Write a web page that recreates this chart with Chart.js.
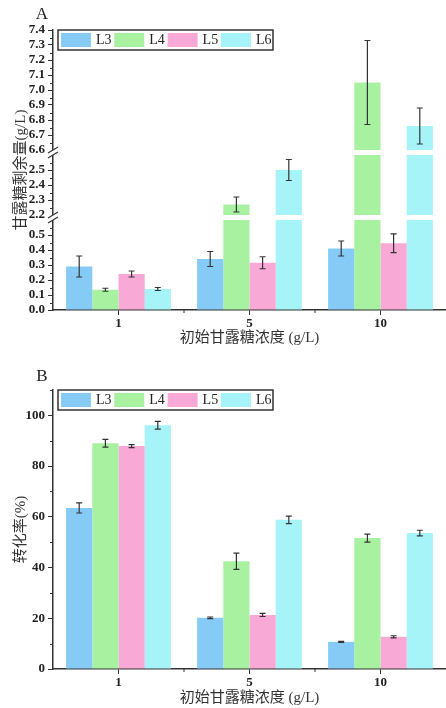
<!DOCTYPE html>
<html lang="zh">
<head>
<meta charset="UTF-8">
<title>甘露糖剩余量与转化率</title>
<script src="https://cdn.jsdelivr.net/npm/chart.js@4.4.0/dist/chart.umd.min.js"></script>
<style>
  * { margin: 0; padding: 0; box-sizing: border-box; }
  body { width: 446px; height: 708px; background: #fff; position: relative; overflow: hidden; }
  #chartA { position: absolute; left: 0; top: 0; }
  #chartB { position: absolute; left: 0; top: 355px; }
</style>
</head>
<body>
<canvas id="chartA" width="446" height="355"></canvas>
<canvas id="chartB" width="446" height="353"></canvas>
<script>
const categories = ['1', '5', '10'];
const seriesNames = ['L3', 'L4', 'L5', 'L6'];
const seriesColors = ['#86cbf6', '#a7f1a0', '#f8a9d5', '#a6f4f8'];

// A: 甘露糖剩余量 (g/L), mean and error
const resL3 = [0.29, 0.34, 0.41];
const resL4 = [0.135, 2.27, 7.05];
const resL5 = [0.24, 0.315, 0.445];
const resL6 = [0.14, 2.50, 6.76];
const resErrL3 = [0.07, 0.05, 0.05];
const resErrL4 = [0.01, 0.05, 0.28];
const resErrL5 = [0.02, 0.04, 0.063];
const resErrL6 = [0.01, 0.07, 0.12];
const resTicks = [0.0, 0.1, 0.2, 0.3, 0.4, 0.5, 2.2, 2.3, 2.4, 2.5,
                  6.6, 6.7, 6.8, 6.9, 7.0, 7.1, 7.2, 7.3, 7.4];

// B: 转化率 (%), mean and error
const convL3 = [63.5, 20.2, 10.7];
const convL4 = [89.0, 42.5, 51.6];
const convL5 = [87.9, 21.3, 12.7];
const convL6 = [96.1, 58.8, 53.6];
const convErrL3 = [2.0, 0.3, 0.2];
const convErrL4 = [1.5, 3.2, 1.6];
const convErrL5 = [0.6, 0.6, 0.4];
const convErrL6 = [1.5, 1.5, 1.1];
const convTicks = [0, 20, 40, 60, 80, 100];

// broken axis for A: visible pieces, gap between them (in axis units)
const segments = [[0, 0.6], [2.2, 2.6], [6.6, 7.4]];
const gapSize = 5 / 150;

function brk(v) {
  let off = 0;
  for (let i = 0; i < segments.length; i++) {
    const [lo, hi] = segments[i];
    if (v <= hi || i === segments.length - 1) return off + Math.max(v, lo) - lo;
    off += hi - lo + gapSize;
  }
}
function unbrk(p) {
  let off = 0;
  for (const [lo, hi] of segments) {
    if (p <= off + hi - lo + 1e-9) return lo + p - off;
    off += hi - lo + gapSize;
  }
  return p;
}
function gapList() {
  const out = [];
  let off = 0;
  segments.slice(0, -1).forEach(([lo, hi]) => {
    off += hi - lo;
    out.push([off, off + gapSize]);
    off += gapSize;
  });
  return out;
}
function minorList(step) {
  const out = [];
  segments.forEach(([lo, hi]) => {
    for (let v = lo + step / 2; v < hi - 1e-9; v += step) out.push(brk(v));
  });
  return out;
}

const extras = {
  chartA: { letter: 'A', gaps: gapList(), minor: minorList(0.1) },
  chartB: { letter: 'B', gaps: [], minor: [10, 30, 50, 70, 90, 110] }
};

const axisColor = '#333';
const tickFont = { family: 'Liberation Serif', size: 13, weight: 'bold' };
const titleFont = { family: "'Liberation Serif', 'Noto Sans CJK SC'", size: 15 };

const decor = {
  id: 'decor',
  afterDatasetsDraw(chart) {
    const o = extras[chart.canvas.id];
    const ctx = chart.ctx, y = chart.scales.y, a = chart.chartArea;
    ctx.save();
    // white bands through the bars at the breaks
    ctx.fillStyle = '#fff';
    o.gaps.forEach(([g0, g1]) => {
      const p0 = y.getPixelForValue(g0), p1 = y.getPixelForValue(g1);
      ctx.fillRect(a.left + 1, p1, a.right - a.left, p0 - p1);
    });
    // error bars
    ctx.strokeStyle = axisColor;
    ctx.lineWidth = 1.2;
    chart.data.datasets.forEach((ds, i) => {
      chart.getDatasetMeta(i).data.forEach((bar, j) => {
        const top = y.getPixelForValue(ds.errHigh[j]);
        const bot = y.getPixelForValue(ds.errLow[j]);
        ctx.beginPath();
        ctx.moveTo(bar.x, top); ctx.lineTo(bar.x, bot);
        ctx.moveTo(bar.x - 3, top); ctx.lineTo(bar.x + 3, top);
        ctx.moveTo(bar.x - 3, bot); ctx.lineTo(bar.x + 3, bot);
        ctx.stroke();
      });
    });
    ctx.restore();
  },
  afterDraw(chart) {
    const o = extras[chart.canvas.id];
    const ctx = chart.ctx, y = chart.scales.y, a = chart.chartArea;
    ctx.save();
    ctx.strokeStyle = axisColor;
    ctx.lineWidth = 1;
    // minor ticks on y
    ctx.beginPath();
    o.minor.forEach(v => {
      const p = Math.round(y.getPixelForValue(v)) + 0.5;
      ctx.moveTo(a.left - 3, p); ctx.lineTo(a.left, p);
    });
    // small ticks between categories
    const n = categories.length;
    for (let k = 1; k < n; k++) {
      const px = a.left + k * (a.right - a.left) / n;
      ctx.moveTo(px, a.bottom); ctx.lineTo(px, a.bottom + 3);
    }
    ctx.stroke();
    // break marks on the y axis
    o.gaps.forEach(([g0, g1]) => {
      const p0 = y.getPixelForValue(g0), p1 = y.getPixelForValue(g1);
      const yc = (p0 + p1) / 2, h = (p0 - p1) / 2;
      ctx.fillStyle = '#fff';
      ctx.fillRect(a.left - 5, yc - h, 10, 2 * h);
      ctx.lineWidth = 1.2;
      ctx.beginPath();
      ctx.moveTo(a.left - 5, yc - h + 3); ctx.lineTo(a.left + 5, yc - h - 3);
      ctx.moveTo(a.left - 5, yc + h + 3); ctx.lineTo(a.left + 5, yc + h - 3);
      ctx.stroke();
    });
    // legend box
    const lx = 58, ly = a.top;
    ctx.lineWidth = 1.5;
    ctx.strokeRect(lx, ly, 215, 20);
    ctx.font = "14px 'Liberation Serif'";
    ctx.textBaseline = 'middle';
    ctx.textAlign = 'left';
    seriesNames.forEach((name, i) => {
      const sx = lx + 3 + i * 53.3;
      ctx.fillStyle = seriesColors[i];
      ctx.fillRect(sx, ly + 3, 30, 14);
      ctx.fillStyle = '#222';
      ctx.fillText(name, sx + 35, ly + 10.5);
    });
    // panel letter
    ctx.font = "17px 'Liberation Serif'";
    ctx.textAlign = 'center';
    ctx.fillStyle = '#222';
    ctx.fillText(o.letter, 42, chart.canvas.id === 'chartA' ? 15 : 22);
    ctx.restore();
  }
};

function buildDatasets(series, errs, map) {
  return seriesNames.map((name, i) => ({
    label: name,
    data: series[i].map(map),
    errHigh: series[i].map((v, j) => map(v + errs[i][j])),
    errLow: series[i].map((v, j) => map(v - errs[i][j])),
    backgroundColor: seriesColors[i],
    borderWidth: 0,
    categoryPercentage: 0.8,
    barPercentage: 1
  }));
}

function makeOptions(o) {
  return {
    responsive: false,
    animation: false,
    layout: { padding: { top: o.padTop, left: 0, right: 0, bottom: 0 } },
    plugins: { legend: { display: false }, tooltip: { enabled: false } },
    scales: {
      x: {
        grid: { display: true, drawOnChartArea: false, offset: false, tickLength: 5, color: axisColor },
        border: { display: true, color: axisColor, width: 1.5 },
        ticks: { font: tickFont, color: '#222', padding: 1 },
        title: { display: true, text: '初始甘露糖浓度 (g/L)', font: titleFont, color: '#333',
                 padding: { top: 0, bottom: o.xTitlePad } },
        afterFit: s => { s.height = o.xHeight; }
      },
      y: {
        min: 0,
        max: o.yMax,
        afterBuildTicks: s => { s.ticks = o.ticks.map(v => ({ value: v })); },
        grid: { display: true, drawOnChartArea: false, tickLength: 5, color: axisColor },
        border: { display: true, color: axisColor, width: 1.5 },
        ticks: { font: tickFont, color: '#222', padding: 3, autoSkip: false, callback: o.label },
        title: { display: true, text: o.yTitle, font: titleFont, color: '#333',
                 padding: { top: 12, bottom: 0 } },
        afterFit: s => { s.width = 53; }
      }
    }
  };
}

new Chart(document.getElementById('chartA'), {
  type: 'bar',
  data: {
    labels: categories,
    datasets: buildDatasets([resL3, resL4, resL5, resL6],
                            [resErrL3, resErrL4, resErrL5, resErrL6], brk)
  },
  options: makeOptions({
    padTop: 30, xHeight: 45, xTitlePad: 8,
    yMax: brk(7.4), ticks: resTicks.map(brk),
    label: v => unbrk(v).toFixed(1),
    yTitle: '甘露糖剩余量(g/L)'
  }),
  plugins: [decor]
});

new Chart(document.getElementById('chartB'), {
  type: 'bar',
  data: {
    labels: categories,
    datasets: buildDatasets([convL3, convL4, convL5, convL6],
                            [convErrL3, convErrL4, convErrL5, convErrL6], v => v)
  },
  options: makeOptions({
    padTop: 35, xHeight: 39, xTitlePad: 1,
    yMax: 110, ticks: convTicks,
    label: v => String(v),
    yTitle: '转化率(%)'
  }),
  plugins: [decor]
});
</script>
</body>
</html>
